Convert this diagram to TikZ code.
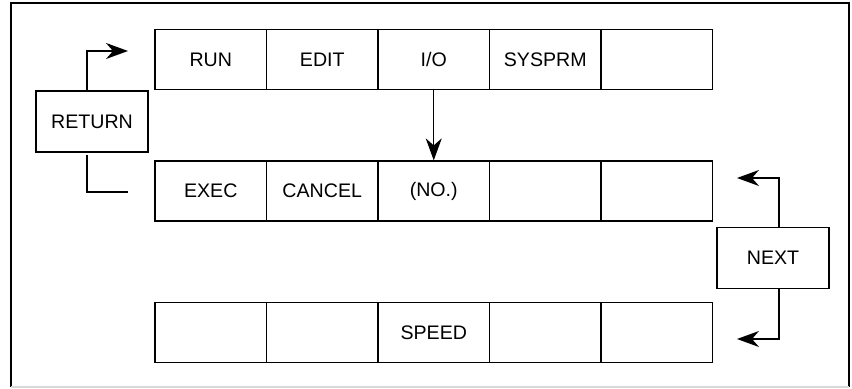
\documentclass[tikz,border=0pt]{standalone}
\usepackage{fontspec}
\setmainfont{Liberation Sans}
\usetikzlibrary{arrows.meta}

\begin{document}
\begin{tikzpicture}[
	x=0.5pt, y=-0.5pt,
	k/.style = {rectangle, draw, line width=0.6pt, minimum width=55.75pt, minimum height=30pt, inner sep=0pt, font=\fontsize{9.8}{11}\selectfont},
	b/.style = {rectangle, draw, line width=0.6pt, minimum width=56pt, minimum height=30.5pt, inner sep=0pt, font=\fontsize{9.8}{11}\selectfont},
	r/.style = {-{Stealth[length=11pt, width=8pt, inset=3.5pt]}, line width=0.6pt},
	l/.style = {line width=0.6pt}
	]
	\useasboundingbox (0,0) rectangle (852,389);
	
	% ===== ===== ===== ===== =====
	
	% Frame
	\draw[line width=1.4pt] (11,387) -- (11,3) -- (849,3) -- (849,387);
	\draw[black!15, line width=0.6pt] (11,387) -- (849,387);
	
	% ===== ===== ===== ===== =====
	
	% Nodes
	\node[k]	(rn)	at	(210.75, 59.5)	{RUN};
	\node[k]	(ed)	at	(322.25, 59.5)	{EDIT};
	\node[k]	(io)	at	(433.75, 59.5)	{I/O};
	\node[k]	(sp)	at	(545.25, 59.5)	{SYSPRM};
	\node[k]	(t5)	at	(656.75, 59.5)	{};
	
	\node[k]	(ex)	at	(210.75, 191)	{EXEC};
	\node[k]	(ca)	at	(322.25, 191)	{CANCEL};
	\node[k]	(no)	at	(433.75, 191)	{(NO.)};
	\node[k]	(m4)	at	(545.25, 191)	{};
	\node[k]	(m5)	at	(656.75, 191)	{};
	
	\node[k]	(s1)	at	(210.75, 332.5)	{};
	\node[k]	(s2)	at	(322.25, 332.5)	{};
	\node[k]	(spd)	at	(433.75, 332.5)	{SPEED};
	\node[k]	(s4)	at	(545.25, 332.5)	{};
	\node[k]	(s5)	at	(656.75, 332.5)	{};
	
	\node[b]	(ret)	at	(92, 121.5)	{RETURN};
	\node[b]	(nxt)	at	(773, 258)	{NEXT};
	
	\coordinate	(retin)		at	(128, 51);
	\coordinate	(retout)	at	(128, 192);
	\coordinate	(nxtup)		at	(737, 178);
	\coordinate	(nxtdn)		at	(737, 339);
	
	
	
	% Lines
	\draw[r]	(io.south)	to	(no.north);
	\draw[r]	([xshift=-2.5pt]ret.north)	|-	(retin);
	\draw[l]	([xshift=-2.5pt, yshift=-1pt]ret.south)	|-	(retout);
	\draw[r]	([xshift=3pt]nxt.north)	|-	(nxtup);
	\draw[r]	([xshift=3pt]nxt.south)	|-	(nxtdn);
	
\end{tikzpicture}
\end{document}
